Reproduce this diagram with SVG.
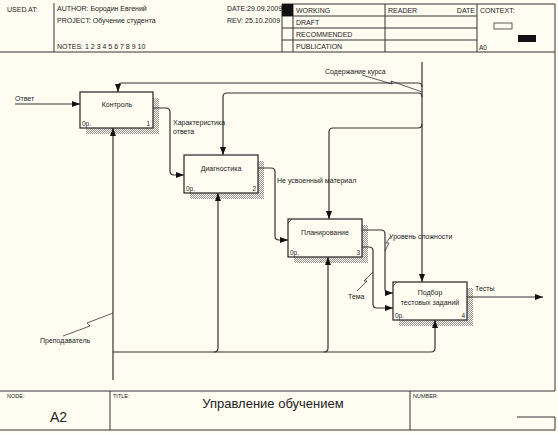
<svg xmlns="http://www.w3.org/2000/svg" width="558" height="433" viewBox="0 0 558 433">
<defs>
<pattern id="hatch" width="2" height="2" patternUnits="userSpaceOnUse">
<rect width="2" height="2" fill="#fffdf2"/>
<path d="M0,2 L2,0" stroke="#777" stroke-width="0.8"/>
</pattern>
<marker id="ah" viewBox="0 0 8 6" refX="8" refY="3" markerWidth="8" markerHeight="6" markerUnits="userSpaceOnUse" orient="auto">
<path d="M0,0 L8,3 L0,6 Z" fill="#111"/>
</marker>
</defs>
<style>
text{font-family:"Liberation Sans",Arial,sans-serif;fill:#222}
.h{font-size:7px}
.s{font-size:5.5px}
.n{font-size:6.5px}
.l{font-size:7px}
.frame{stroke:#333;stroke-width:1;fill:none}
.box{fill:#fffdf2;stroke:#222;stroke-width:1.2}
.sh{fill:url(#hatch)}
.c{fill:none;stroke:#333;stroke-width:1.2}
.a{marker-end:url(#ah)}
.sq{fill:none;stroke:#333;stroke-width:0.8}
</style>
<rect width="558" height="433" fill="#fffdf2"/>

<g id="header">
<path class="frame" d="M54,3 V52 M0,52 H555 M282,4 H555 V391 M282,4 V52 M293,4 V52 M385,4 V52 M477,4 V52 M282,16 H477 M282,28 H477 M282,40 H477"/>
<text class="h" x="7" y="12">USED AT:</text>
<text class="h" x="57" y="11">AUTHOR:  Бородин Евгений</text>
<text class="h" x="57" y="23">PROJECT:  Обучение студента</text>
<text class="h" x="57" y="49">NOTES:  1  2  3  4  5  6  7  8  9  10</text>
<text class="h" x="227" y="11">DATE:29.09.2009</text>
<text class="h" x="227" y="23">REV:  25.10.2009</text>
<rect x="282" y="4" width="11" height="12" fill="#111"/>
<text class="h" x="296" y="13">WORKING</text>
<text class="h" x="296" y="25">DRAFT</text>
<text class="h" x="296" y="37">RECOMMENDED</text>
<text class="h" x="296" y="49">PUBLICATION</text>
<text class="h" x="388" y="13">READER</text>
<text class="h" x="475" y="13" text-anchor="end">DATE</text>
<text class="h" x="480" y="13">CONTEXT:</text>
<rect x="494" y="23" width="18" height="6" fill="#fffdf2" stroke="#333" stroke-width="0.8"/>
<rect x="518" y="35" width="18" height="7" fill="#111"/>
<text class="n" x="479" y="50">A0</text>
</g>

<g id="footer">
<path class="frame" d="M0,391 H555 M110,391 V430 M410,391 V430 M0,430 H555 M517,417 H555 V430"/>
<text class="s" x="7" y="398">NODE:</text>
<text x="50" y="422" style="font-size:14px">A2</text>
<text class="s" x="113" y="398">TITLE:</text>
<text x="273" y="408" text-anchor="middle" style="font-size:13px">Управление обучением</text>
<text class="s" x="413" y="398">NUMBER:</text>
</g>

<g id="box1">
<path class="sh" d="M153,98 H159 V134 H86 V128 H153 Z"/>
<rect class="box" x="80" y="92" width="73" height="36"/>
<text class="l" x="117" y="107" text-anchor="middle">Контроль</text>
<text class="n" x="82" y="126">0p.</text>
<text class="n" x="150" y="126" text-anchor="end">1</text>
</g>
<g id="box2">
<path class="sh" d="M258,161 H264 V199 H190 V193 H258 Z"/>
<rect class="box" x="184" y="155" width="74" height="38"/>
<text class="l" x="221" y="171" text-anchor="middle">Диагностика</text>
<text class="n" x="186" y="191">0p.</text>
<text class="n" x="256" y="191" text-anchor="end">2</text>
</g>
<g id="box3">
<path class="sh" d="M362,225 H368 V263 H294 V257 H362 Z"/>
<rect class="box" x="288" y="219" width="74" height="38"/>
<path d="M288,223 L292,219" stroke="#333" stroke-width="0.8"/>
<text class="l" x="325" y="235" text-anchor="middle">Планирование</text>
<text class="n" x="290" y="255">0p.</text>
<text class="n" x="360" y="255" text-anchor="end">3</text>
</g>
<g id="box4">
<path class="sh" d="M467,288 H473 V326 H399 V320 H467 Z"/>
<rect class="box" x="393" y="282" width="74" height="38"/>
<path d="M393,286 L397,282" stroke="#333" stroke-width="0.8"/>
<text class="l" x="430" y="295" text-anchor="middle">Подбор</text>
<text class="l" x="430" y="305" text-anchor="middle">тестовых заданий</text>
<text class="n" x="395" y="318">0p.</text>
<text class="n" x="465" y="318" text-anchor="end">4</text>
</g>

<g id="connectors">
<path class="c a" d="M15,104 H80"/>
<path class="c" d="M422,62 V270"/>
<path class="c a" d="M422,270 V282"/>
<path class="c a" d="M418,83 H122 Q118,83 118,87 V92"/>
<path class="c a" d="M418,93 H227 Q223,93 223,97 V155"/>
<path class="c a" d="M418,128 H333 Q329,128 329,132 V219"/>
<path class="c" d="M418,83 Q422,83 422,87 M418,93 Q422,93 422,97 M418,128 Q422,128 422,124"/>
<path class="c a" d="M153,108 H166 Q170,108 170,112 V171 Q170,175 174,175 H184"/>
<path class="c a" d="M258,168 H271 Q275,168 275,172 V236 Q275,240 279,240 H288"/>
<path class="c a" d="M362,230 H381 Q385,230 385,234 V289 Q385,293 389,293 H393"/>
<path class="c a" d="M362,247 H369 Q373,247 373,251 V304 Q373,308 377,308 H393"/>
<path class="c a" d="M467,297 H543"/>
<path class="c a" d="M113,380 V128"/>
<path class="c" d="M113,352 H431 Q435,352 435,348 V330"/>
<path class="c a" d="M435,330 V320"/>
<path class="c a" d="M214,352 Q218,352 218,348 V193"/>
<path class="c a" d="M324,352 Q328,352 328,348 V257"/>
<path class="sq" d="M362,75 L392,84 L391,81 L422,92"/>
<path class="sq" d="M63,336 L90,326 L87,323 L113,313"/>
<path class="sq" d="M357,291 L367,281 L364,281 L373,272"/>
<path class="sq" d="M385,251 L389,243 L386,243 L391,236"/>
<text class="l" x="325" y="74">Содержание курса</text>
<text class="l" x="15" y="101">Ответ</text>
<text class="l" x="173" y="125">Характеристика</text>
<text class="l" x="173" y="134">ответа</text>
<text class="l" x="277" y="183">Не усвоенный материал</text>
<text class="l" x="389" y="239">Уровень сложности</text>
<text class="l" x="348" y="299">Тема</text>
<text class="l" x="475" y="291">Тесты</text>
<text class="l" x="40" y="343">Преподаватель</text>
</g>
</svg>
